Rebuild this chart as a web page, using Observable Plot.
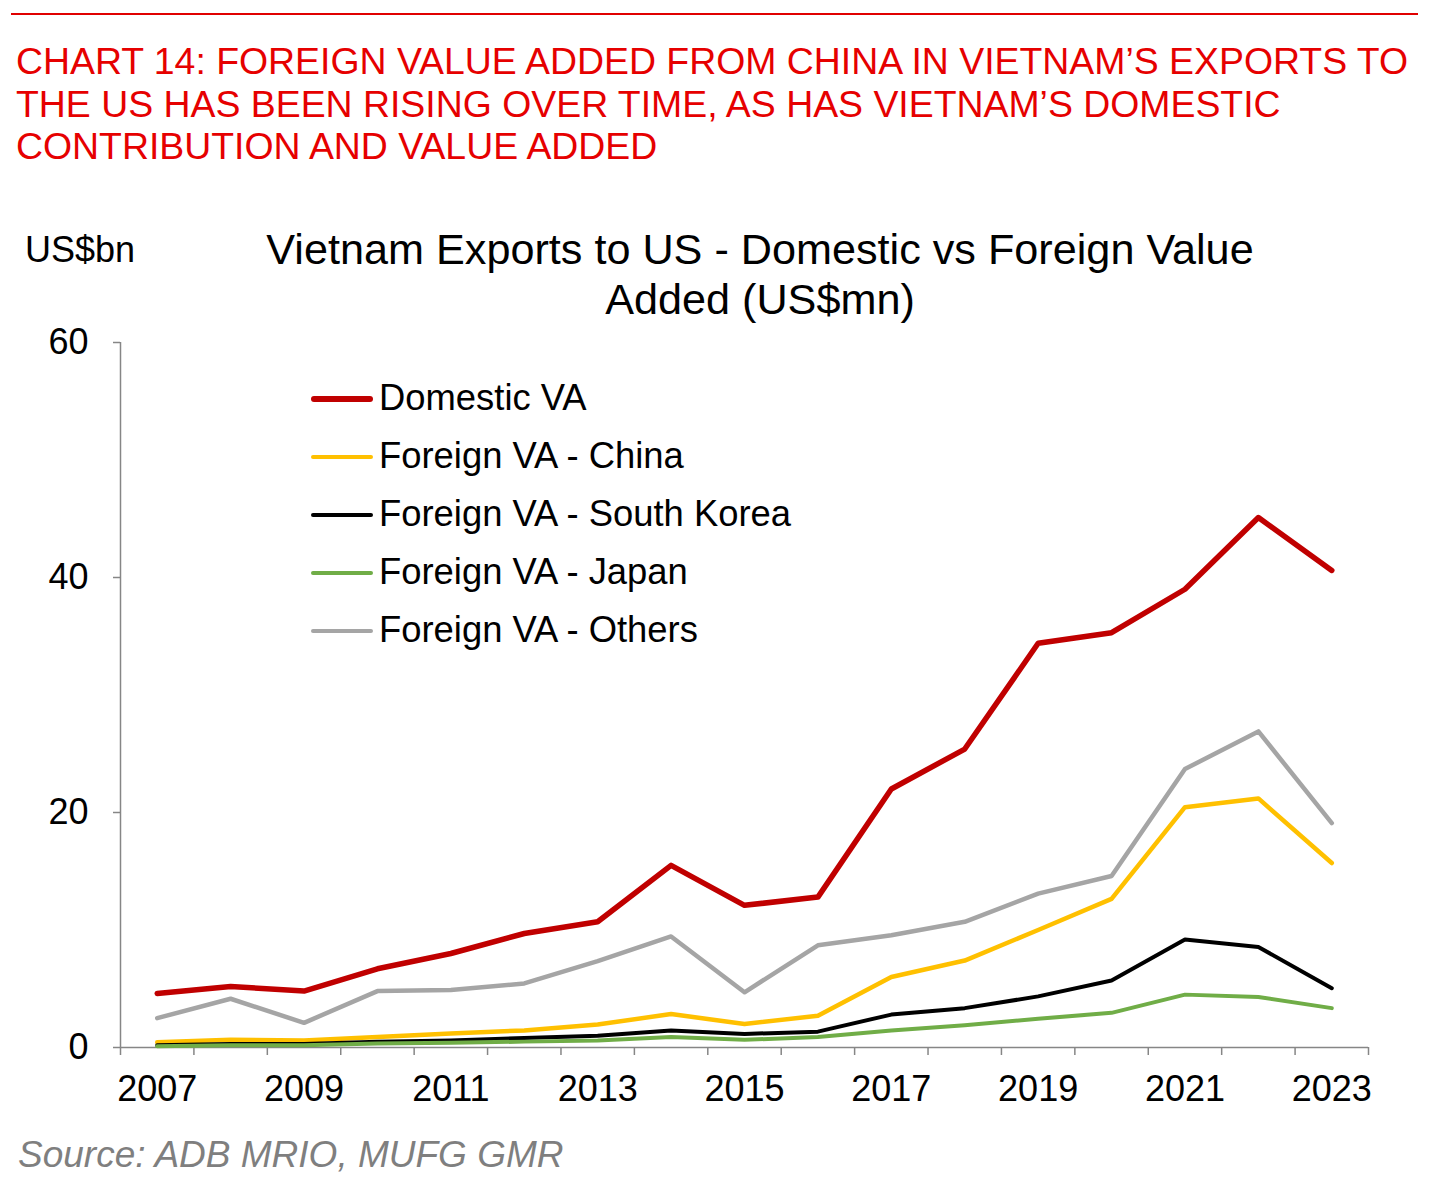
<!DOCTYPE html>
<html>
<head>
<meta charset="utf-8">
<script src="https://cdn.jsdelivr.net/npm/d3@7"></script>
<script src="https://cdn.jsdelivr.net/npm/@observablehq/plot@0.6"></script>
<style>
  html, body { margin: 0; padding: 0; background: #fff; }
  #page { position: relative; width: 1435px; height: 1197px; font-family: "Liberation Sans", Arial, sans-serif; overflow: hidden; }
  #rule { position: absolute; left: 11px; top: 13px; width: 1407px; height: 2px; background: #e00000; }
  #title { position: absolute; left: 16px; top: 40px; color: #e60000; font-size: 37.4px; line-height: 42.5px; white-space: nowrap; }
  #unit { position: absolute; left: 25px; top: 229px; font-size: 36px; color: #000; }
  #ctitle { position: absolute; left: 210px; width: 1100px; top: 224px; text-align: center; font-size: 43.2px; line-height: 50px; color: #000; white-space: nowrap; }
  #chart { position: absolute; left: 0; top: 320px; }
  #legend { position: absolute; left: 311px; top: 374px; }
  .item { position: relative; height: 58px; font-size: 36.4px; color: #000; }
  .swatch { position: absolute; left: 0; top: 23px; width: 62px; border-radius: 3px; }
  .lab { position: absolute; left: 68px; top: 3px; white-space: nowrap; }
  #source { position: absolute; left: 18px; top: 1134px; font-size: 37px; font-style: italic; color: #7f7f7f; }
</style>
</head>
<body>
<div id="page">
  <div id="rule"></div>
  <div id="title">CHART 14: FOREIGN VALUE ADDED FROM CHINA IN VIETNAM’S EXPORTS TO<br>THE US HAS BEEN RISING OVER TIME, AS HAS VIETNAM’S DOMESTIC<br>CONTRIBUTION AND VALUE ADDED</div>
  <div id="unit">US$bn</div>
  <div id="ctitle">Vietnam Exports to US - Domestic vs Foreign Value<br>Added (US$mn)</div>
  <div id="chart"></div>
  <div id="legend"></div>
  <div id="source">Source: ADB MRIO, MUFG GMR</div>
</div>
<script>
const years = [2007, 2008, 2009, 2010, 2011, 2012, 2013, 2014, 2015, 2016, 2017, 2018, 2019, 2020, 2021, 2022, 2023];
const labelYears = [2007, 2009, 2011, 2013, 2015, 2017, 2019, 2021, 2023];
const yTicks = [0, 20, 40, 60];

const domestic = [4.6, 5.2, 4.8, 6.7, 8.0, 9.7, 10.7, 15.5, 12.1, 12.8, 22.0, 25.4, 34.4, 35.3, 39.0, 45.1, 40.6];
const china    = [0.45, 0.65, 0.6, 0.9, 1.2, 1.45, 1.95, 2.85, 2.0, 2.7, 6.0, 7.4, 10.0, 12.65, 20.45, 21.2, 15.7];
const korea    = [0.2, 0.3, 0.3, 0.5, 0.6, 0.8, 1.0, 1.45, 1.15, 1.35, 2.8, 3.35, 4.35, 5.7, 9.2, 8.55, 5.05];
const japan    = [0.1, 0.2, 0.2, 0.35, 0.4, 0.5, 0.6, 0.9, 0.65, 0.9, 1.45, 1.9, 2.45, 2.95, 4.5, 4.3, 3.35];
const others   = [2.5, 4.15, 2.1, 4.8, 4.9, 5.45, 7.35, 9.45, 4.7, 8.7, 9.55, 10.7, 13.1, 14.6, 23.7, 26.9, 19.1];

const seriesNames = ["Domestic VA", "Foreign VA - China", "Foreign VA - South Korea", "Foreign VA - Japan", "Foreign VA - Others"];
const seriesValues = [domestic, china, korea, japan, others];
const seriesColors = ["#c00000", "#ffc000", "#000000", "#70ad47", "#a5a5a5"];
const seriesWidths = [5.5, 4.5, 4, 4, 4.5];

// band boundaries between years (for the category-style tick marks)
const boundaries = years.map(y => y - 0.5).concat([years[years.length - 1] + 0.5]);

const axisGray = "#868686";

const lineMarks = seriesNames.map((name, i) =>
  Plot.line(years.map((yr, j) => ({year: yr, value: seriesValues[i][j], series: name})), {
    x: "year", y: "value",
    stroke: seriesColors[i], strokeWidth: seriesWidths[i],
    strokeLinejoin: "round", strokeLinecap: "round"
  })
);

const chart = Plot.plot({
  width: 1435,
  height: 800,
  marginTop: 22,
  marginBottom: 73,
  marginLeft: 120,
  marginRight: 67,
  style: {fontFamily: "'Liberation Sans', Arial, sans-serif", fontSize: "36px", background: "transparent", overflow: "visible"},
  x: {type: "linear", domain: [boundaries[0], boundaries[boundaries.length - 1]]},
  y: {domain: [0, 60]},
  marks: [
    Plot.axisY({ticks: yTicks, tickSize: 7, tickPadding: 25, stroke: axisGray, strokeWidth: 1.5, fill: "#000", label: null, tickFormat: d => String(d)}),
    Plot.axisX({ticks: boundaries, tickSize: 8, tickFormat: () => "", stroke: axisGray, strokeWidth: 1.5, label: null}),
    Plot.axisX({ticks: labelYears, tickSize: 0, tickPadding: 28, tickFormat: d => String(d), fill: "#000", label: null}),
    Plot.ruleX([boundaries[0]], {stroke: axisGray, strokeWidth: 1.5}),
    Plot.ruleY([0], {stroke: axisGray, strokeWidth: 1.5}),
    ...lineMarks
  ]
});
document.getElementById("chart").appendChild(chart);

// legend
const legend = document.getElementById("legend");
seriesNames.forEach((name, i) => {
  const item = document.createElement("div");
  item.className = "item";
  const sw = document.createElement("div");
  sw.className = "swatch";
  sw.style.background = seriesColors[i];
  sw.style.height = seriesWidths[i] + "px";
  sw.style.top = (23 - seriesWidths[i] / 2 + 2) + "px";
  const lab = document.createElement("div");
  lab.className = "lab";
  lab.textContent = name;
  item.appendChild(sw);
  item.appendChild(lab);
  legend.appendChild(item);
});
</script>
</body>
</html>
